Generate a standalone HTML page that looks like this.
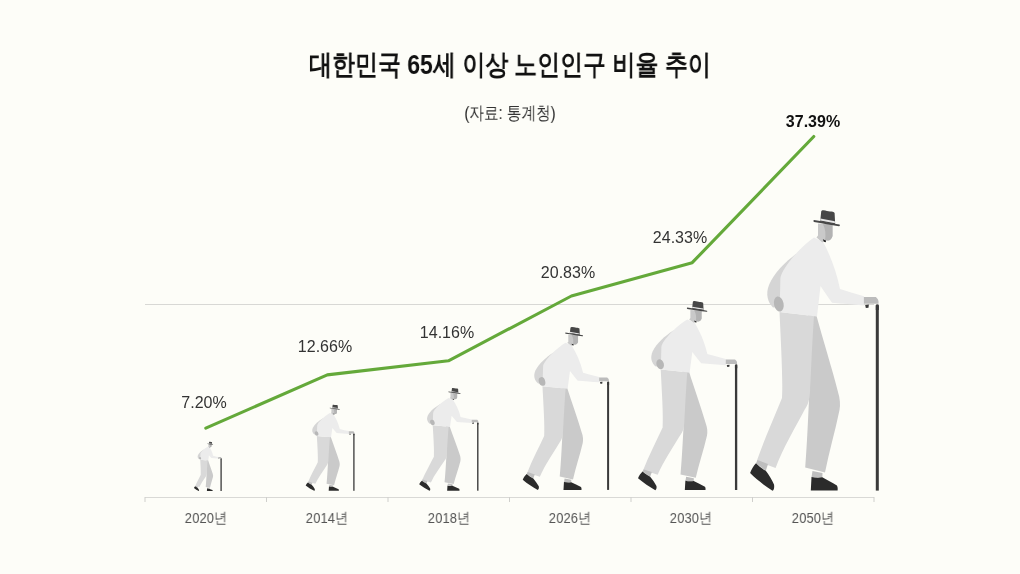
<!DOCTYPE html>
<html lang="ko"><head><meta charset="utf-8">
<style>
html,body{margin:0;padding:0;}
body{width:1020px;height:574px;background:#fdfdf8;position:relative;overflow:hidden;font-family:"Liberation Sans",sans-serif;}
.t{position:absolute;white-space:nowrap;will-change:transform;}
#title{left:0;width:1020px;top:46px;text-align:center;font-size:28px;font-weight:bold;color:#111;transform:scaleX(0.82);}
#sub{left:0;width:1020px;top:101px;text-align:center;font-size:18px;color:#333;transform:scaleX(0.814);}
.pct{font-size:16px;color:#333;text-align:center;}
.yr{font-size:15px;color:#555;text-align:center;transform:scaleX(0.88);}
</style></head><body>
<svg width="1020" height="574" style="position:absolute;left:0;top:0">
  <defs>
<g id="man">
  <path d="M796,254 C785,262 774,273 769,285 C765.5,294 767.5,302 773,307.5 L790,306 L800,262 Z" fill="#d5d5d5"/>
  <path d="M808,313 L816,314 C823,340 832,368 838,392 C840,398 840.5,405 839.5,410 C835,432 829,452 825,472.5 L805.2,467.5 C807,445 808,420 809,400 Z" fill="#cacaca"/>
  <path d="M779.5,312 L814,316 C812,345 811,375 810,392 C809.5,400 808,405 805,409 C795,428 783,448 775.6,468 L756.8,461 C764,440 774,418 782,398 C783,380 781,345 779.5,312 Z" fill="#d9d9d9"/>
  <path d="M757.5,460 L768,464 L765.8,470.8 L756,463.3 Z" fill="#bebebe"/>
  <path d="M812.5,471 L822.5,473 L822.3,477.8 L811.5,477.3 Z" fill="#bebebe"/>
  <path d="M756,463.3 C759,466 762,469 765.8,470.8 C769,475 772,480 774,484.5 C774.5,487 774,490 772.5,490.8 C765,486 757,480 750.1,473.1 C751.5,469 753.5,466 756,463.3 Z" fill="#2b2b2b"/>
  <path d="M811.5,476.9 C815,477.8 819,478 822.3,477.3 C827,480 832,482.5 836.9,485.6 C837.8,487 837.8,489 837.6,490.6 L810.8,490.6 Z" fill="#2b2b2b"/>
  <path d="M814,237.5 C817,239 820,240.5 823,241.5 C830,255 836.5,271 840,289 C848,291.5 856,294 864,296.2 L864,305.5 C853,304.5 842,303.5 832,302.7 C828,297 824,291.5 820.5,286 L817,316.5 C805,315 792,313.5 779.6,312 L780.4,278 C782,268 800,247 814,237.5 Z" fill="#ececec"/>
  <ellipse cx="778.8" cy="304" rx="4.8" ry="7.6" transform="rotate(-12 778.8 304)" fill="#b7b7b7"/>
  <path d="M816.5,237.5 L818,235.5 L818,223.5 L832.5,224.5 L832.5,236 C832,238.5 830,240.5 828,240.5 L824.5,240.2 L822.5,242.5 Z" fill="#c9c9c9"/>
  <path d="M823,224.2 L832.5,224.5 L832.5,236 C832,238.5 830,240.5 828,240.5 L825,240.2 C826,235 825.5,229 823,224.2 Z" fill="#b3b3b3"/>
  <path d="M822.8,239.2 L826,240.5 L825.8,242.2 L823.8,241.8 Z" fill="#222"/>
  <path d="M820.2,221.5 L821.2,211.5 C821.4,210.5 822.5,210.2 823.5,210.3 C826,210.6 828,211.3 830,211.5 C832,211.6 834,211.8 834.6,213 L835.2,224.5 Z" fill="#474747"/>
  <path d="M820.4,218.6 L834.8,221.3 L835,223.2 L820.3,220.6 Z" fill="#e6e6e6"/>
  <path d="M814,219.9 C822,221.3 831,223.1 839.5,224.5 C840.2,225 840,226.3 839,226.3 C831,225 822,223.2 814,221.9 C813.3,221.6 813.3,220.1 814,219.9 Z" fill="#474747"/>
  <path d="M863.9,297 L875.9,297 C877.5,298.5 878.5,300 878.5,301.5 L878.5,303.8 L863.9,303.8 Z" fill="#bcbcbc"/>
  <path d="M875.8,305 C876.2,304 878,303.8 878.8,304.8 L878.8,310 L875.8,310 Z" fill="#3a3a3a"/>
  <path d="M865.2,305 L868.9,304.6 L868.5,307.7 L865.8,308.1 Z" fill="#3a3a3a"/>
</g>
</defs>
  <line x1="145" y1="304.5" x2="874" y2="304.5" stroke="#d8d8d5" stroke-width="1"/>
  <line x1="145" y1="497.5" x2="874" y2="497.5" stroke="#d9d9d6" stroke-width="1.2"/>
  <line x1="145.0" y1="497" x2="145.0" y2="502" stroke="#cfcfcc" stroke-width="1"/>
  <line x1="266.5" y1="497" x2="266.5" y2="502" stroke="#cfcfcc" stroke-width="1"/>
  <line x1="388.0" y1="497" x2="388.0" y2="502" stroke="#cfcfcc" stroke-width="1"/>
  <line x1="509.5" y1="497" x2="509.5" y2="502" stroke="#cfcfcc" stroke-width="1"/>
  <line x1="631.0" y1="497" x2="631.0" y2="502" stroke="#cfcfcc" stroke-width="1"/>
  <line x1="752.5" y1="497" x2="752.5" y2="502" stroke="#cfcfcc" stroke-width="1"/>
  <line x1="874.0" y1="497" x2="874.0" y2="502" stroke="#cfcfcc" stroke-width="1"/>
  <use href="#man" transform="translate(221.1 491.0) scale(0.2134 0.1753) translate(-877.3 -490.6)"/>
  <rect x="220.45" y="458.55" width="1.30" height="32.45" fill="#3a3a3a"/>
  <use href="#man" transform="translate(353.9 490.8) scale(0.379 0.307) translate(-877.3 -490.6)"/>
  <rect x="353.25" y="433.97" width="1.30" height="56.83" fill="#3a3a3a"/>
  <use href="#man" transform="translate(477.8 490.7) scale(0.461 0.366) translate(-877.3 -490.6)"/>
  <rect x="477.11" y="422.95" width="1.38" height="67.75" fill="#3a3a3a"/>
  <use href="#man" transform="translate(608.1 489.9) scale(0.671 0.581) translate(-877.3 -490.6)"/>
  <rect x="607.09" y="382.36" width="2.01" height="107.54" fill="#3a3a3a"/>
  <use href="#man" transform="translate(736.1 490.0) scale(0.771 0.674) translate(-877.3 -490.6)"/>
  <rect x="734.94" y="365.24" width="2.31" height="124.76" fill="#3a3a3a"/>
  <use href="#man" transform="translate(877.3 490.6) scale(1.0 1.0) translate(-877.3 -490.6)"/>
  <rect x="875.80" y="305.50" width="3.00" height="185.10" fill="#3a3a3a"/>

  <polyline points="205.8,428.2 327.3,374.9 448.4,360.8 571.4,296 692.2,262.7 813.8,136.5" fill="none" stroke="#64a93a" stroke-width="3.1" stroke-linecap="round" stroke-linejoin="round"/>
</svg>
<div id="title" class="t">대한민국 65세 이상 노인인구 비율 추이</div>
<div id="sub" class="t">(자료: 통계청)</div>
<div class="t pct" style="left:143.7px;width:120px;top:394px;">7.20%</div>
<div class="t pct" style="left:265px;width:120px;top:338px;">12.66%</div>
<div class="t pct" style="left:387.2px;width:120px;top:324px;">14.16%</div>
<div class="t pct" style="left:508px;width:120px;top:264px;">20.83%</div>
<div class="t pct" style="left:620px;width:120px;top:228.5px;">24.33%</div>
<div class="t pct" style="left:753.4px;width:120px;top:112.5px;font-weight:bold;color:#111;">37.39%</div>
<div class="t yr" style="left:145.5px;width:120px;top:509px">2020년</div>
<div class="t yr" style="left:267px;width:120px;top:509px">2014년</div>
<div class="t yr" style="left:388.5px;width:120px;top:509px">2018년</div>
<div class="t yr" style="left:509.5px;width:120px;top:509px">2026년</div>
<div class="t yr" style="left:631px;width:120px;top:509px">2030년</div>
<div class="t yr" style="left:752.5px;width:120px;top:509px">2050년</div>

</body></html>
